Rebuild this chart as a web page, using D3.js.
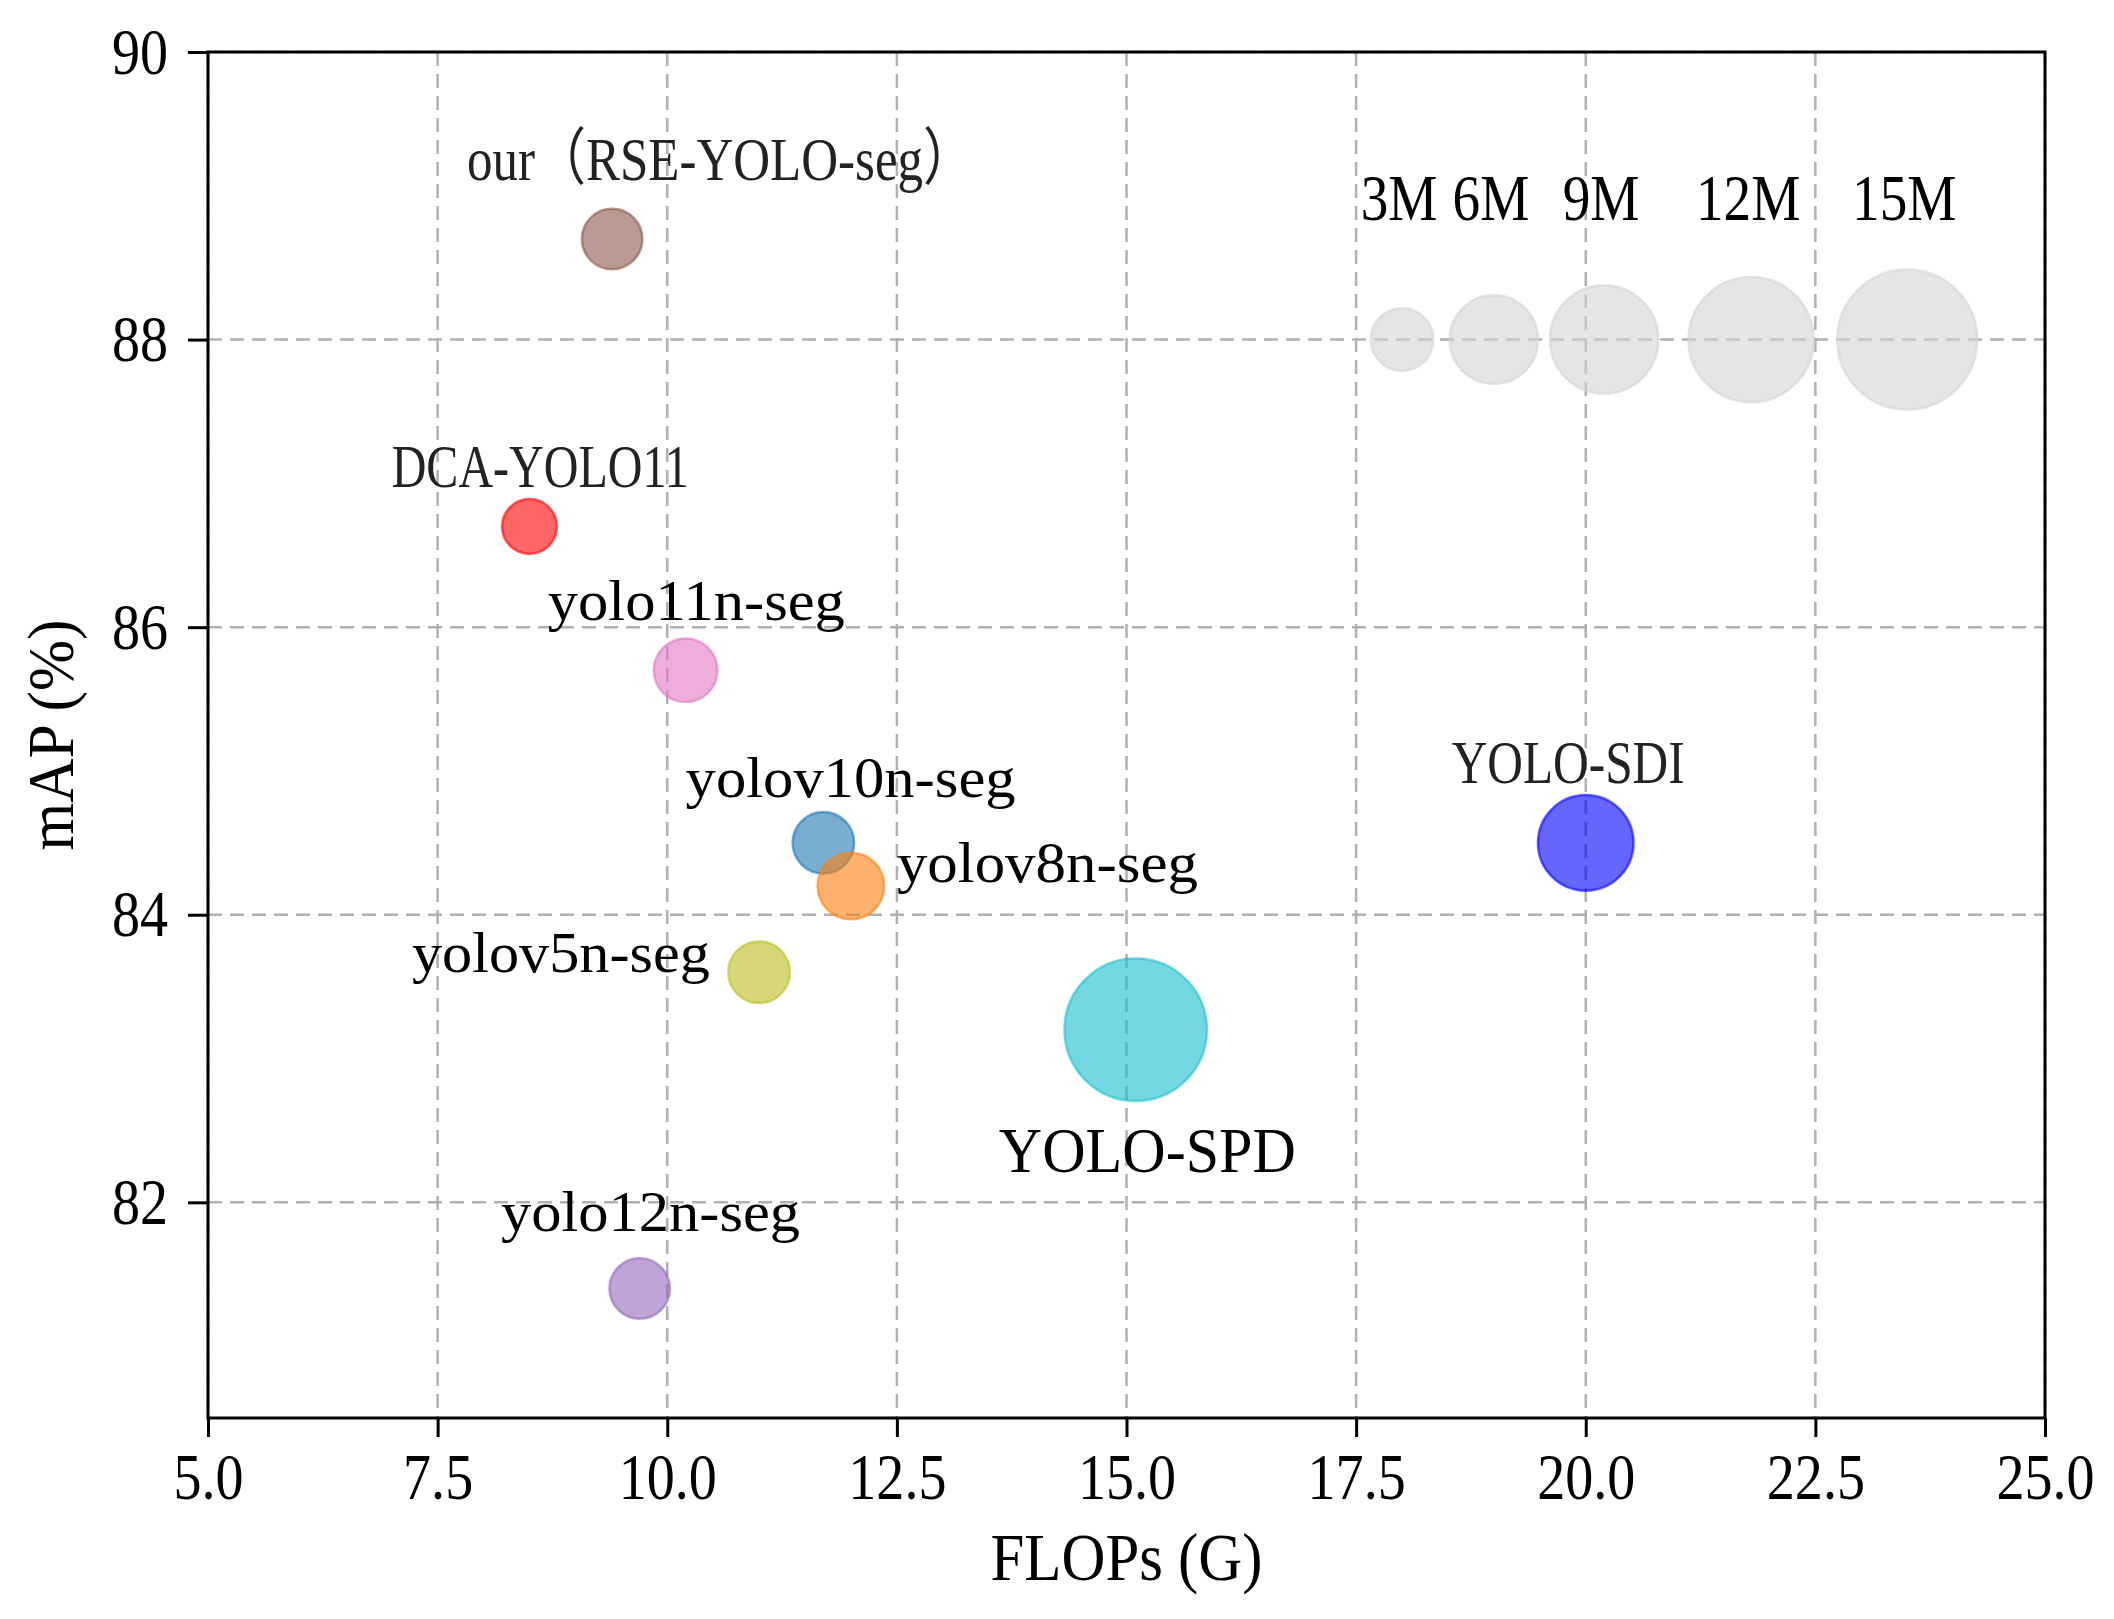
<!DOCTYPE html>
<html><head><meta charset="utf-8">
<script src="https://cdn.jsdelivr.net/npm/d3@7"></script>
<style>body{margin:0;background:#fff}</style>
</head><body><svg id="chart" width="2114" height="1619"></svg>
<script>
// ---- data ----
const models = ["our（RSE-YOLO-seg）","DCA-YOLO11","yolo11n-seg","yolov10n-seg","yolov8n-seg","yolov5n-seg","YOLO-SPD","YOLO-SDI","yolo12n-seg"];
const flops  = [9.4, 8.5, 10.2, 11.7, 12.0, 11.0, 15.1, 20.0, 9.7];
const mAP    = [88.7, 86.7, 85.7, 84.5, 84.2, 83.6, 83.2, 84.5, 81.4];
const params = [2.8, 2.3, 3.1, 2.9, 3.4, 2.9, 15.5, 7.0, 2.8];
const colors = ["#8c564b","#ff0000","#e377c2","#1f77b4","#ff7f0e","#bcbd22","#17becf","#0000ff","#9467bd"];
const legendSizes  = [3, 6, 9, 12, 15];
const legendLabels = ["3M","6M","9M","12M","15M"];
const legendX      = [18.0, 19.0, 20.2, 21.8, 23.5];
const legendY      = 88;
const xTicks = [5, 7.5, 10, 12.5, 15, 17.5, 20, 22.5, 25];
const yTicks = [82, 84, 86, 88, 90];

// ---- layout / style (not data) ----
const labelLayout = {
  "our（RSE-YOLO-seg）": {dx:-1.58, dy:0.41, thin:true, w:507},
  "DCA-YOLO11":   {dx:-1.5,  dy:0.277, thin:true, w:297},
  "yolo11n-seg":  {dx:-1.5,  dy:0.35,  w:297},
  "yolov10n-seg": {dx:-1.5,  dy:0.32,  w:330},
  "yolov8n-seg":  {dx:0.5,   dy:0.03,  w:301},
  "yolov5n-seg":  {dx:-3.78, dy:0.0,   w:298},
  "YOLO-SPD":     {dx:-1.49, dy:-0.987, w:297, size:63},
  "YOLO-SDI":     {dx:-1.46, dy:0.414, thin:true, w:233},
  "yolo12n-seg":  {dx:-1.51, dy:0.40,  w:299}
};
const SERIF = "'Liberation Serif','Times New Roman','Noto Sans CJK SC',serif";

const svg = d3.select("#chart");
svg.append("rect").attr("width",2114).attr("height",1619).attr("fill","#fff");
const m = {left:208, right:2045, top:52, bottom:1418};
const x = d3.scaleLinear().domain([5,25]).range([m.left,m.right]);
const y = d3.scaleLinear().domain([80.5,90]).range([m.bottom,m.top]);
const r = d3.scaleSqrt().domain([0,15]).range([0,70]);

function condense(sel, f){
  sel.each(function(){
    const L = this.getComputedTextLength();
    d3.select(this).attr("textLength", L*f).attr("lengthAdjust","spacingAndGlyphs");
  });
}

// grid
const grid = svg.append("g");
grid.selectAll("line.gx").data(xTicks).join("line")
  .attr("x1",d=>x(d)).attr("x2",d=>x(d)).attr("y1",m.top).attr("y2",m.bottom);
grid.selectAll("line.gy").data(yTicks).join("line").filter(()=>true)
  .attr("x1",m.left).attr("x2",m.right).attr("y1",d=>y(d)).attr("y2",d=>y(d));
grid.selectAll("line").attr("stroke","#b0b0b0").attr("stroke-width",2.5).attr("stroke-dasharray","14,8");

// legend bubbles
const leg = svg.append("g");
leg.selectAll("circle").data(legendSizes).join("circle")
  .attr("cx",(d,i)=>x(legendX[i])).attr("cy",y(legendY)).attr("r",d=>r(d))
  .attr("fill","#d3d3d3").attr("fill-opacity",0.6)
  .attr("stroke","#d3d3d3").attr("stroke-opacity",0.6).attr("stroke-width",2.5);
leg.selectAll("text").data(legendLabels).join("text")
  .attr("x",(d,i)=>x(legendX[i])-3).attr("y",y(legendY+0.83))
  .attr("text-anchor","middle").attr("font-family",SERIF).attr("font-size",65)
  .attr("fill","#000").text(d=>d)
  .call(condense,0.85);

// model bubbles
const data = models.map((name,i)=>({name, fx:flops[i], my:mAP[i], p:params[i], c:colors[i]}));
svg.append("g").selectAll("circle").data(data).join("circle")
  .attr("cx",d=>x(d.fx)).attr("cy",d=>y(d.my)).attr("r",d=>r(d.p))
  .attr("fill",d=>d.c).attr("fill-opacity",0.6)
  .attr("stroke",d=>d.c).attr("stroke-opacity",0.6).attr("stroke-width",2.5);

// labels
svg.append("g").selectAll("text").data(data).join("text")
  .attr("x",d=>x(d.fx+labelLayout[d.name].dx))
  .attr("y",d=>y(d.my+labelLayout[d.name].dy))
  .attr("font-family",SERIF)
  .attr("font-size",d=>labelLayout[d.name].size || (labelLayout[d.name].thin?62:58))
  .attr("fill",d=>labelLayout[d.name].thin?"#222":"#000")
  .attr("textLength",d=>labelLayout[d.name].w).attr("lengthAdjust","spacingAndGlyphs")
  .text(d=>d.name);

// axes
const ax = svg.append("g").attr("transform",`translate(0,${m.bottom})`)
  .call(d3.axisBottom(x).tickValues(xTicks).tickFormat(d3.format(".1f")).tickSize(19).tickPadding(15));
const ay = svg.append("g").attr("transform",`translate(${m.left},0)`)
  .call(d3.axisLeft(y).tickValues(yTicks).tickFormat(d3.format("d")).tickSize(20).tickPadding(20));
[ax,ay].forEach(a=>{
  a.select(".domain").remove();
  a.selectAll(".tick line").attr("stroke","#000").attr("stroke-width",3);
  a.selectAll(".tick text").attr("font-family",SERIF).attr("font-size",66).attr("fill","#000")
    .call(condense,0.85);
});

// frame
svg.append("rect").attr("x",m.left).attr("y",m.top)
  .attr("width",m.right-m.left).attr("height",m.bottom-m.top)
  .attr("fill","none").attr("stroke","#000").attr("stroke-width",3);

// axis titles
svg.append("text").attr("x",(m.left+m.right)/2).attr("y",1580)
  .attr("text-anchor","middle").attr("font-family",SERIF).attr("font-size",68).attr("fill","#000")
  .attr("textLength",272).attr("lengthAdjust","spacingAndGlyphs").text("FLOPs (G)");
svg.append("text").attr("transform",`translate(73,${(m.top+m.bottom)/2}) rotate(-90)`)
  .attr("text-anchor","middle").attr("font-family",SERIF).attr("font-size",66).attr("fill","#000")
  .attr("textLength",231).attr("lengthAdjust","spacingAndGlyphs").text("mAP (%)");
</script></body></html>
